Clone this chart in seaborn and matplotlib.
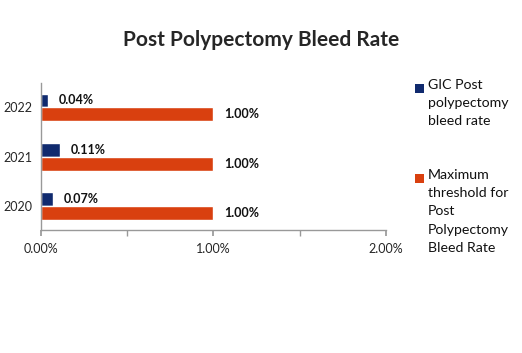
import pandas as pd
import matplotlib.pyplot as plt
import seaborn as sns
from matplotlib.patches import Rectangle

# data (percent)
years = ['2022', '2021', '2020']
gic_rate = [0.04, 0.11, 0.07]
max_threshold = [1.00, 1.00, 1.00]
series_names = ['GIC Post\npolypectomy\nbleed rate',
                'Maximum\nthreshold for\nPost\nPolypectomy\nBleed Rate']
colors = ['#102a6e', '#d9400f']

sns.set_theme(style='white')
plt.rcParams['font.family'] = ['Lato', 'DejaVu Sans']

df = pd.DataFrame({
    'year': years * 2,
    'value': gic_rate + max_threshold,
    'series': [series_names[0]] * 3 + [series_names[1]] * 3,
})

W, H = 522, 353
fig = plt.figure(figsize=(W / 100, H / 100), dpi=100)
ax = fig.add_axes([0.0785, 0.348, 0.661, 0.417])

sns.barplot(data=df, y='year', x='value', hue='series', order=years,
            hue_order=series_names, palette=colors, width=0.57,
            orient='h', ax=ax, legend=False, saturation=1)

# value labels
for cont in ax.containers:
    ax.bar_label(cont, labels=[f'{v:.2f}%' for v in cont.datavalues],
                 padding=8, fontsize=9, fontweight='bold', color='#111111')

ax.set_xlim(0, 2)
ax.set_ylim(2.5, -0.5)
ax.set_xticks([0, 1, 2])
ax.set_xticklabels(['0.00%', '1.00%', '2.00%'], fontsize=9)
ax.set_xticks([0.5, 1.5], minor=True)
ax.tick_params(axis='x', which='both', bottom=True, length=4, color='#999999',
               direction='out', pad=5)
ax.tick_params(axis='y', labelsize=9, length=0, pad=6)
ax.set_xlabel('')
ax.set_ylabel('')

for side in ['top', 'right']:
    ax.spines[side].set_visible(False)
for side in ['left', 'bottom']:
    ax.spines[side].set_color('#999999')
    ax.spines[side].set_linewidth(1)

fig.suptitle('Post Polypectomy Bleed Rate', x=0.5, y=0.915,
             fontsize=15, fontweight='bold')

# legend: square next to first line of each multi-line label
legend_top = [88, 178]
for name, c, ytop in zip(series_names, colors, legend_top):
    fig.patches.append(Rectangle((415 / W, 1 - (ytop + 4.5) / H), 9 / W, 9 / H,
                                 transform=fig.transFigure, facecolor=c,
                                 edgecolor='none'))
    fig.text(428 / W, 1 - (ytop - 9) / H, name, fontsize=10.2, va='top',
             ha='left', linespacing=1.62, color='#111111')

fig.savefig('out.png', dpi=100)
